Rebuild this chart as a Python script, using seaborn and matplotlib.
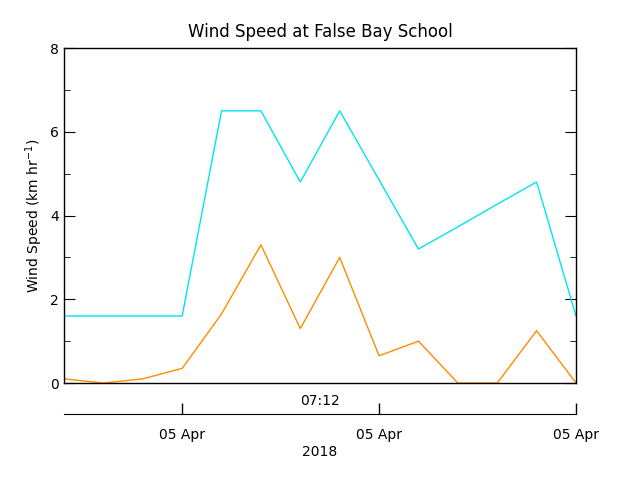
import matplotlib
matplotlib.use("Agg")
import matplotlib.pyplot as plt
import seaborn as sns
import pandas as pd
from matplotlib.ticker import MultipleLocator

# valores
pasos = list(range(14))
viento_max = [1.6, 1.6, 1.6, 1.6, 6.5, 6.5, 4.8, 6.5, 4.85, 3.2, 3.73, 4.27, 4.8, 1.6]
viento_medio = [0.1, 0.0, 0.1, 0.35, 1.65, 3.3, 1.3, 3.0, 0.65, 1.0, 0.0, 0.0, 1.25, 0.0]
etiquetas_fecha = ["05 Apr", "05 Apr", "05 Apr"]
pos_fecha = [3, 8, 13]

df = pd.DataFrame({"paso": pasos, "max": viento_max, "medio": viento_medio})

sns.set_style("white")
plt.rcParams['font.family'] = ['DejaVu Sans']
plt.rcParams['text.color'] = 'black'
plt.rcParams['axes.labelcolor'] = 'black'
plt.rcParams['xtick.color'] = 'black'
plt.rcParams['ytick.color'] = 'black'
fig = plt.figure(figsize=(6.4, 4.8), dpi=100)
ax = fig.add_axes([0.1, 0.202, 0.8, 0.698])

sns.lineplot(data=df, x="paso", y="max", color="#00e5ee", lw=1, ax=ax)
sns.lineplot(data=df, x="paso", y="medio", color="#ff8c00", lw=1, ax=ax)

ax.set_xlim(0, 13)
ax.set_ylim(0, 8)
ax.set_xticks([])
ax.set_xlabel("")
ax.yaxis.set_major_locator(MultipleLocator(2))
ax.yaxis.set_minor_locator(MultipleLocator(1))
ax.tick_params(axis="y", which="both", direction="in", right=True, left=True, labelsize=10)
ax.tick_params(axis="y", which="major", length=8)
ax.tick_params(axis="y", which="minor", length=4)
for s in ax.spines.values():
    s.set_color("black")
    s.set_linewidth(1)
ax.set_ylabel("Wind Speed (km hr$^{-1}$)", fontsize=10)
ax.set_title("Wind Speed at False Bay School", fontsize=12, pad=8)
ax.text(6.5, -0.25, "07:12", ha="center", va="top", fontsize=10)

# eje de fechas inferior
ax2 = fig.add_axes([0.1, 0.1375, 0.8, 0.001])
ax2.set_xlim(0, 13)
ax2.set_yticks([])
for k in ["top", "left", "right"]:
    ax2.spines[k].set_visible(False)
ax2.spines["bottom"].set_color("black")
ax2.set_xticks(pos_fecha)
ax2.set_xticklabels(etiquetas_fecha, fontsize=10)
ax2.tick_params(axis="x", bottom=True, direction="in", length=8, width=1, pad=10, color="black")
ax2.set_xlabel("2018", fontsize=10, labelpad=2)

fig.savefig("out.png", dpi=100)
